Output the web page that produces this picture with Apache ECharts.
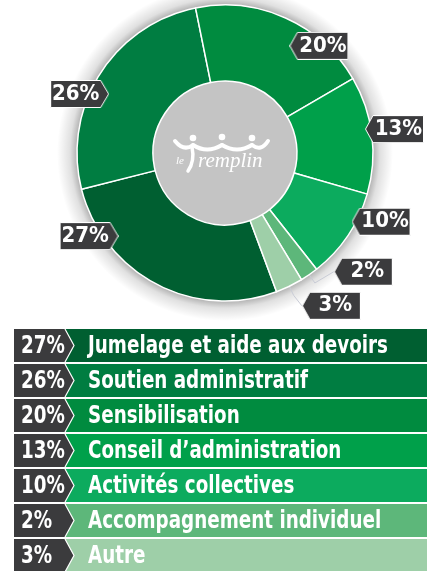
<!DOCTYPE html>
<html>
<head>
<meta charset="utf-8">
<script src="https://cdn.jsdelivr.net/npm/echarts@6/dist/echarts.min.js"></script>
<style>
  html, body { margin: 0; padding: 0; background: #fff; }
  #chart { width: 435px; height: 571px; }
</style>
</head>
<body>
<div id="chart"></div>
<script>
// data
const categories = ['Jumelage et aide aux devoirs', 'Soutien administratif', 'Sensibilisation',
  'Conseil d\u2019administration', 'Activités collectives', 'Accompagnement individuel', 'Autre'];
const percents = [27, 26, 20, 13, 10, 2, 3];
const colors = ['#005f31', '#007d41', '#008b3f', '#00a04a', '#0cab5e', '#5db77a', '#9ecfa8'];

// where the little tags sit (compass degrees / px from centre)
const tagAngles = [232, 297, 31, 80.3, 118.5, 137.5, 153.3];
const tagRadii = [135, 130, 125, 142, 144, 161, 171];
const tagPointsRight = [true, true, false, false, false, false, false];
const withLine = [false, false, false, false, false, true, true];

const CX = 225, CY = 153, R0 = 72, R = 148;
const START = 290.4;
const FONT = '"DejaVu Sans Condensed", "DejaVu Sans", sans-serif';
const DARK = '#3b3b3d';
const TAG_W = 59, TAG_H = 28, TIP = 8;

// squeeze text horizontally so it looks like the narrow font of the original
const meas = document.createElement('canvas').getContext('2d');
meas.font = 'bold 25px ' + FONT;
const squeeze = 300 / meas.measureText(categories[0]).width;

// tag shape drawn once on a canvas, used as label background
function makeTag(right) {
  const c = document.createElement('canvas');
  c.width = TAG_W; c.height = TAG_H;
  const ctx = c.getContext('2d');
  const w = TAG_W - 0.5, h = TAG_H - 0.5;
  ctx.beginPath();
  if (right) {
    ctx.moveTo(0.5, 0.5); ctx.lineTo(w - TIP, 0.5); ctx.lineTo(w, TAG_H / 2);
    ctx.lineTo(w - TIP, h); ctx.lineTo(0.5, h);
  } else {
    ctx.moveTo(TIP, 0.5); ctx.lineTo(w, 0.5); ctx.lineTo(w, h);
    ctx.lineTo(TIP, h); ctx.lineTo(0.5, TAG_H / 2);
  }
  ctx.closePath();
  ctx.fillStyle = DARK;
  ctx.fill();
  ctx.strokeStyle = '#fff';
  ctx.lineWidth = 1;
  ctx.stroke();
  return c;
}
const tagLeft = makeTag(false);
const tagRight = makeTag(true);

const total = percents.reduce((a, b) => a + b, 0);
function midAngle(i) {
  let cum = 0;
  for (let k = 0; k < i; k++) cum += percents[k];
  return (90 - START) + (cum + percents[i] / 2) / total * 360;
}
function pt(angDeg, r) {
  const a = angDeg * Math.PI / 180;
  return [CX + r * Math.sin(a), CY - r * Math.cos(a)];
}

const pieData = categories.map((name, i) => ({
  name: name,
  value: percents[i],
  itemStyle: { color: colors[i] },
  label: tagPointsRight[i]
    ? { backgroundColor: { image: tagRight }, padding: [0, TIP, 0, 0] }
    : { backgroundColor: { image: tagLeft }, padding: [0, 0, 0, TIP] },
  labelLine: { show: withLine[i] }
}));

// legend rows
const rowTop = 329, rowH = 33, rowStep = 35;
const legendRows = categories.map((name, i) => ({
  type: 'group',
  x: 0,
  y: rowTop + i * rowStep,
  silent: true,
  children: [
    { type: 'rect', shape: { x: 65, y: 0, width: 362, height: rowH }, style: { fill: colors[i] } },
    { type: 'polygon', shape: { points: [[14, 0], [65, 0], [74, rowH / 2], [65, rowH], [14, rowH]] },
      style: { fill: DARK } },
    { type: 'polyline', shape: { points: [[65, 0], [74, rowH / 2], [65, rowH]] },
      style: { stroke: '#fff', lineWidth: 1.2, fill: null } },
    { type: 'text', x: 21, y: rowH / 2 + 1, scaleX: squeeze,
      style: { text: percents[i] + '%', fill: '#fff', font: 'bold 25px ' + FONT, verticalAlign: 'middle' } },
    { type: 'text', x: 88, y: rowH / 2 + 1, scaleX: squeeze,
      style: { text: name, fill: '#fff', font: 'bold 25px ' + FONT, verticalAlign: 'middle' } }
  ]
}));

// soft halo behind the ring (gradient, fades out past the outer edge)
const HALO = 20;
const edge = R / (R + HALO);
const halo = {
  type: 'circle', z: 0, silent: true,
  shape: { cx: CX, cy: CY, r: R + HALO },
  style: {
    fill: {
      type: 'radial', x: 0.5, y: 0.5, r: 0.5,
      colorStops: [
        { offset: 0, color: 'rgba(0,0,0,0.3)' },
        { offset: edge, color: 'rgba(0,0,0,0.3)' },
        { offset: edge + (1 - edge) * 0.35, color: 'rgba(0,0,0,0.12)' },
        { offset: 1, color: 'rgba(0,0,0,0)' }
      ]
    }
  }
};

// logo in the middle
const wave = { stroke: '#fff', lineWidth: 4, fill: null, lineCap: 'round' };
const logoParts = [
  { type: 'bezierCurve', shape: { x1: -50, y1: -12, cpx1: -41, cpy1: -1, x2: -32, y2: -8 }, style: wave },
  { type: 'bezierCurve', shape: { x1: -32, y1: -8, cpx1: -18, cpy1: 1, x2: -3, y2: -8 }, style: wave },
  { type: 'bezierCurve', shape: { x1: -3, y1: -8, cpx1: 12, cpy1: 1, x2: 27, y2: -8 }, style: wave },
  { type: 'bezierCurve', shape: { x1: 27, y1: -8, cpx1: 36, cpy1: -1, x2: 43, y2: -12 }, style: wave },
  { type: 'bezierCurve', shape: { x1: -33, y1: -6, cpx1: -30, cpy1: 8, x2: -37, y2: 18 },
    style: { stroke: '#fff', lineWidth: 3.5, fill: null, lineCap: 'round' } },
  { type: 'circle', shape: { cx: -32, cy: -15, r: 3.3 }, style: { fill: '#fff' } },
  { type: 'circle', shape: { cx: -3, cy: -16, r: 3.3 }, style: { fill: '#fff' } },
  { type: 'circle', shape: { cx: 27, cy: -15, r: 3.3 }, style: { fill: '#fff' } },
  { type: 'text', x: -49, y: 8,
    style: { text: 'le', fill: '#fff', font: 'italic 11px "Liberation Serif", serif', verticalAlign: 'middle' } },
  { type: 'text', x: -27, y: 8,
    style: { text: 'remplin', fill: '#fff', font: 'italic 21px "Liberation Serif", serif', verticalAlign: 'middle' } }
].map(el => Object.assign({ z: 50 }, el));
const logo = { type: 'group', x: CX, y: CY, z: 50, silent: true, children: logoParts };

const chart = echarts.init(document.getElementById('chart'), null, { renderer: 'canvas' });
chart.setOption({
  backgroundColor: '#fff',
  animation: false,
  series: [
    {
      type: 'pie', silent: true, center: [CX, CY], radius: [0, R0], z: 2,
      label: { show: false }, labelLine: { show: false },
      itemStyle: { color: '#c4c4c4' },
      data: [{ value: 1 }]
    },
    {
      type: 'pie', silent: true, center: [CX, CY], radius: [R0, R], z: 3,
      startAngle: START, clockwise: true,
      avoidLabelOverlap: false,
      itemStyle: { borderColor: '#fff', borderWidth: 1.5 },
      label: {
        show: true,
        position: 'outside',
        formatter: p => '{v|' + p.value + '%}',
        rich: {
          v: { width: TAG_W - TIP, height: TAG_H, lineHeight: TAG_H, align: 'center', color: '#fff',
            fontSize: 22, fontWeight: 'bold', fontFamily: FONT }
        }
      },
      labelLine: { show: false, lineStyle: { color: '#c9ccd6', width: 1 } },
      labelLayout: function (p) {
        const i = p.dataIndex;
        const tip = pt(tagAngles[i], tagRadii[i]);
        const res = {
          x: tip[0], y: tip[1],
          align: tagPointsRight[i] ? 'right' : 'left',
          verticalAlign: 'middle'
        };
        if (withLine[i]) {
          const m = midAngle(i);
          res.labelLinePoints = [pt(m, R - 8), pt(m, R + 10), tip];
        }
        return res;
      },
      data: pieData
    }
  ],
  graphic: [halo].concat(legendRows, [logo])
});
</script>
</body>
</html>
